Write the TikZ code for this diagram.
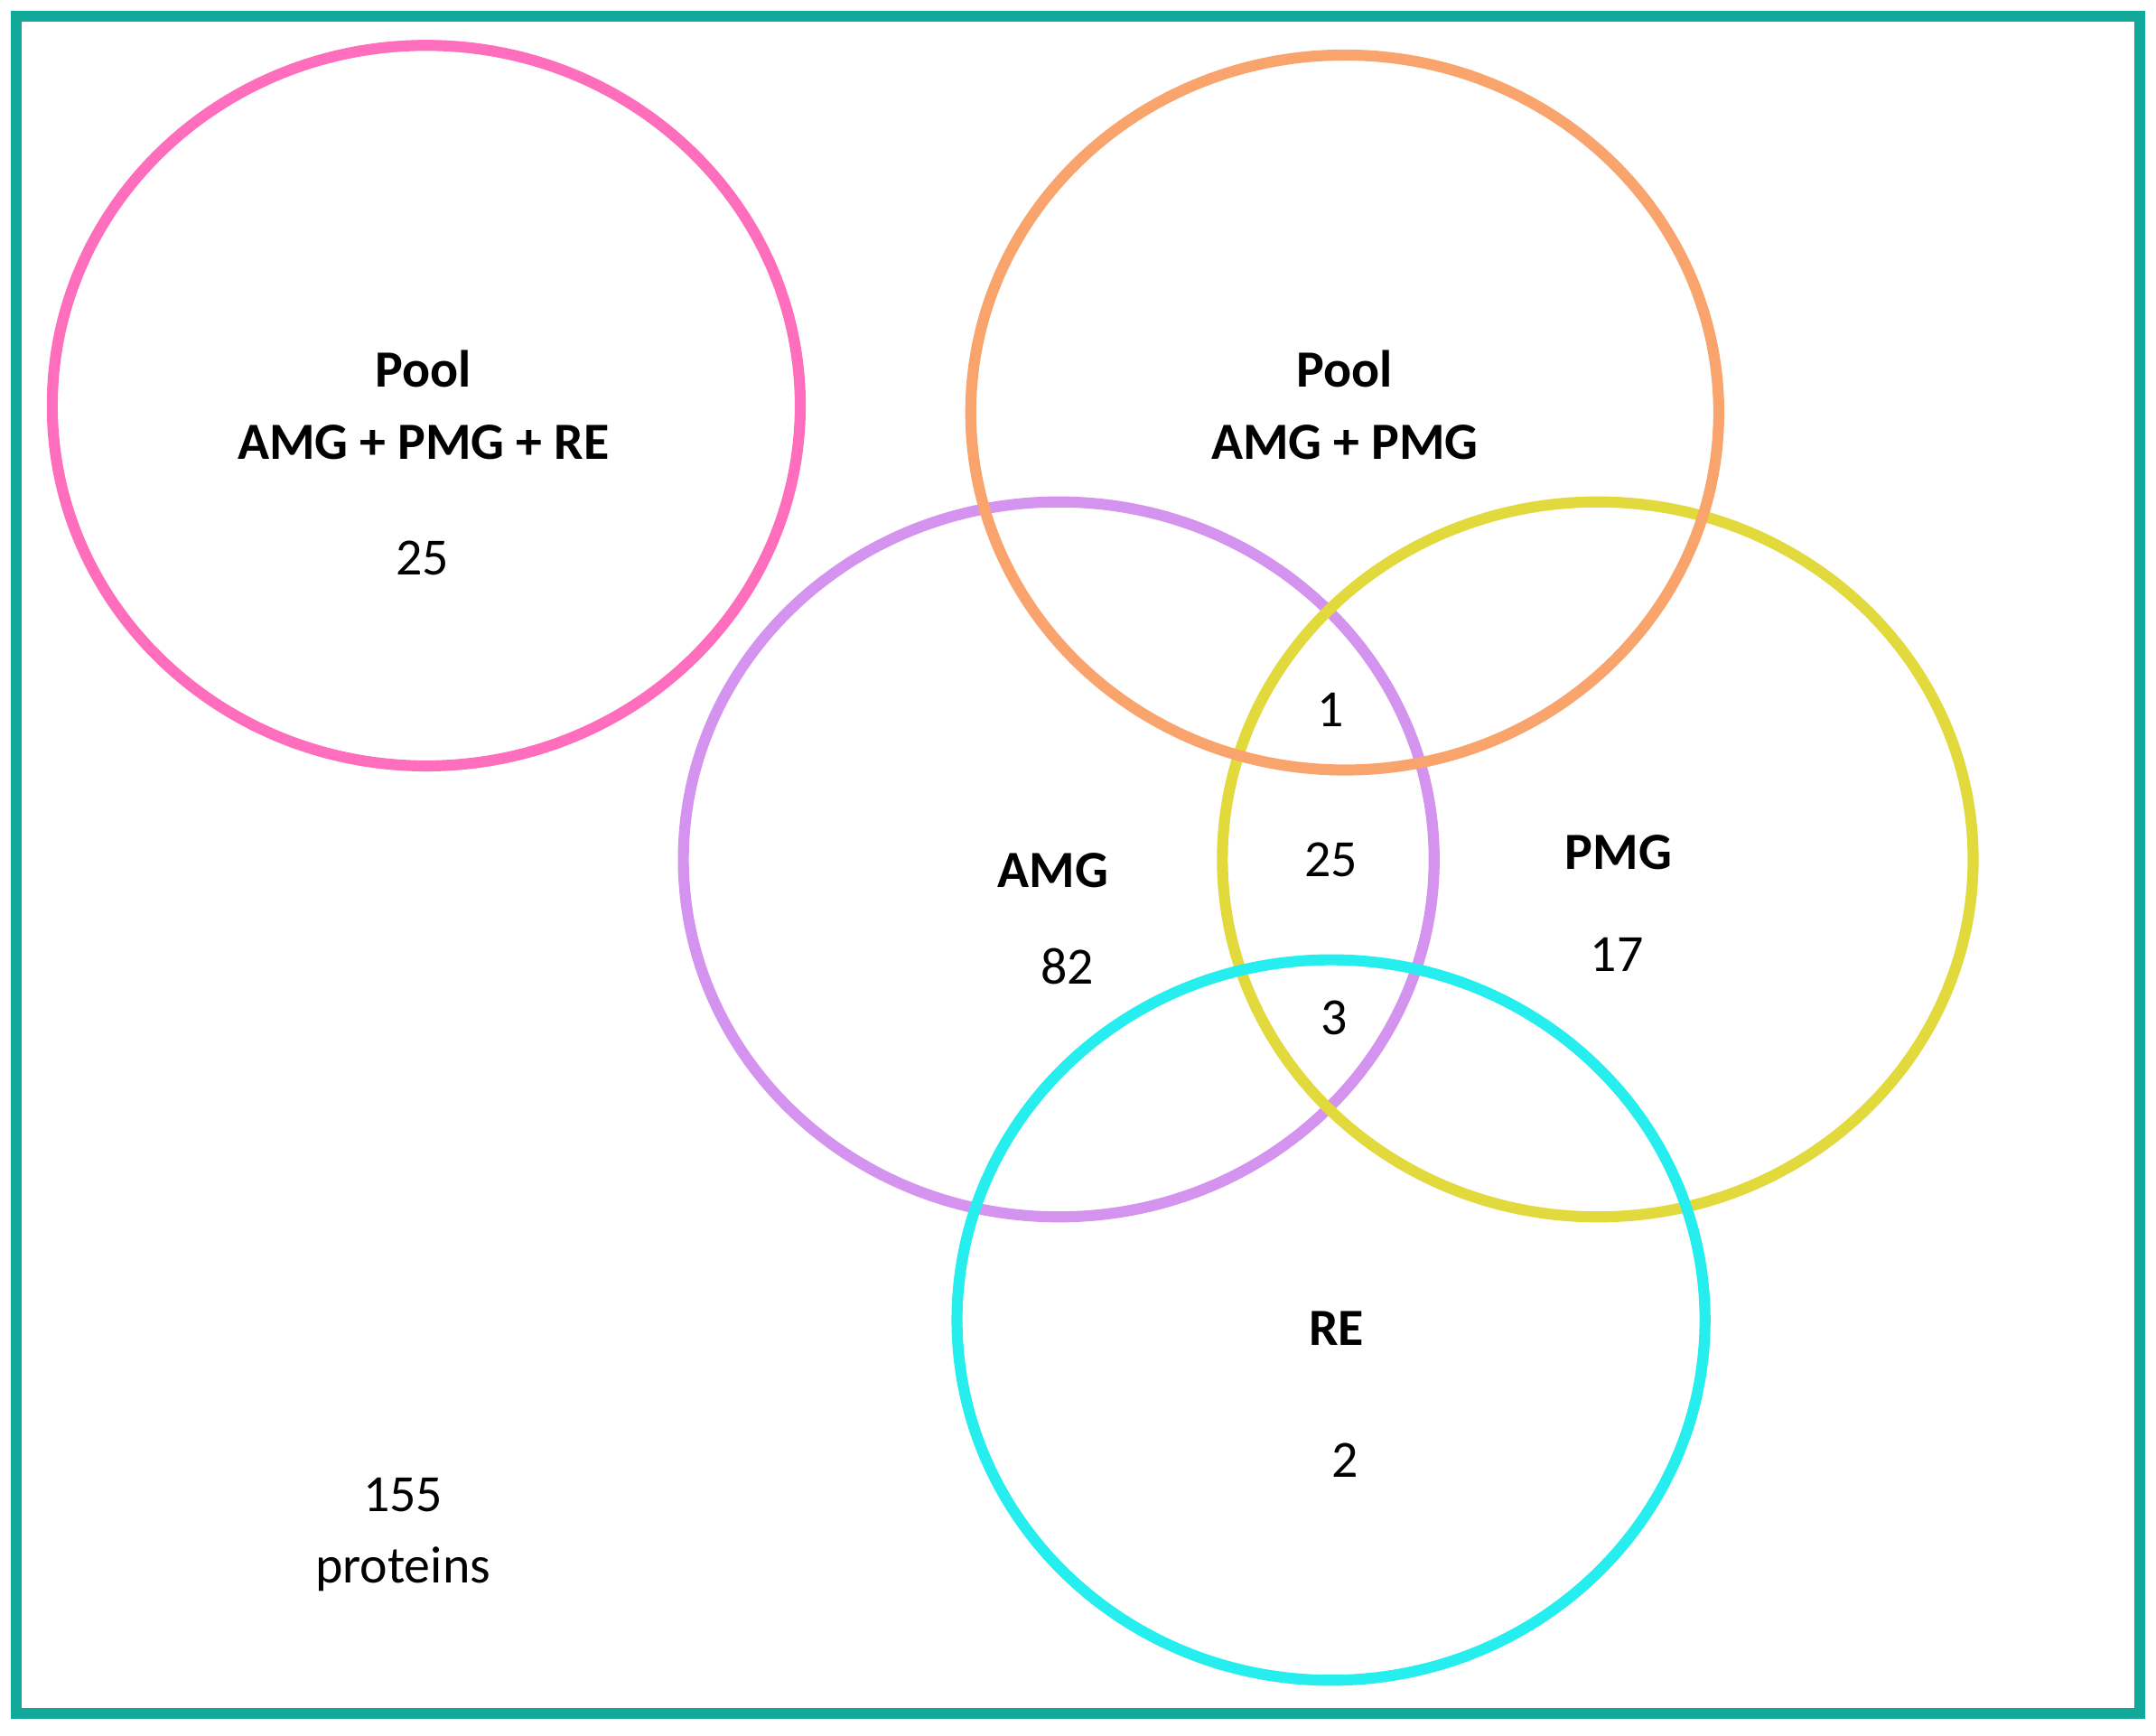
\documentclass[tikz,border=0pt]{standalone}
\usepackage{fontspec}
\setmainfont{Carlito}
\begin{document}
\begin{tikzpicture}[x=1pt,y=-1pt,
  ring/.style={line width=8pt},
  lbl/.style={font=\fontsize{38}{46}\selectfont, inner sep=0pt},
  blbl/.style={font=\fontsize{38}{46}\selectfont\bfseries, inner sep=0pt}]
\definecolor{frame}{HTML}{12A89A}
\definecolor{cpink}{HTML}{FF6EBD}
\definecolor{corange}{HTML}{F9A46C}
\definecolor{cpurple}{HTML}{D593F0}
\definecolor{cyellow}{HTML}{E2D93C}
\definecolor{ccyan}{HTML}{26EEEE}
\useasboundingbox (0,0) rectangle (1568,1262);
\fill[white] (0,0) rectangle (1568,1262);
\draw[line width=8pt, frame] (12,12) rectangle (1556,1246);
\draw[ring,cpink] (310,295) ellipse [x radius=272, y radius=262];
\draw[ring,cpurple] (770,625) ellipse [x radius=273, y radius=260];
\draw[ring,cyellow] (1162,625) ellipse [x radius=273, y radius=260];
\draw[ring,corange] (978,300) ellipse [x radius=272, y radius=260];
\draw[ring,ccyan] (968,960) ellipse [x radius=272, y radius=262];
\node[blbl] (p1a) at (308,268) {Pool};
\node[blbl] (p1b) at (308,322) {AMG + PMG + RE};
\node[lbl] (p1n) at (307,406) {25};
\node[blbl] (p2a) at (978,268) {Pool};
\node[blbl] (p2b) at (978,322) {AMG + PMG};
\node[lbl] (n1) at (968,516) {1};
\node[lbl] (n25) at (968,625) {25};
\node[lbl] (n3) at (970,740) {3};
\node[blbl] (amg) at (766,633) {AMG};
\node[lbl] (n82) at (776,703) {82};
\node[blbl] (pmg) at (1177,620) {PMG};
\node[lbl] (n17) at (1176,694) {17};
\node[blbl] (re) at (972,966) {RE};
\node[lbl] (n2) at (978,1062) {2};
\node[lbl] (t155) at (293,1087) {155};
\node[lbl] (tprot) at (293,1141) {proteins};
\end{tikzpicture}
\end{document}
